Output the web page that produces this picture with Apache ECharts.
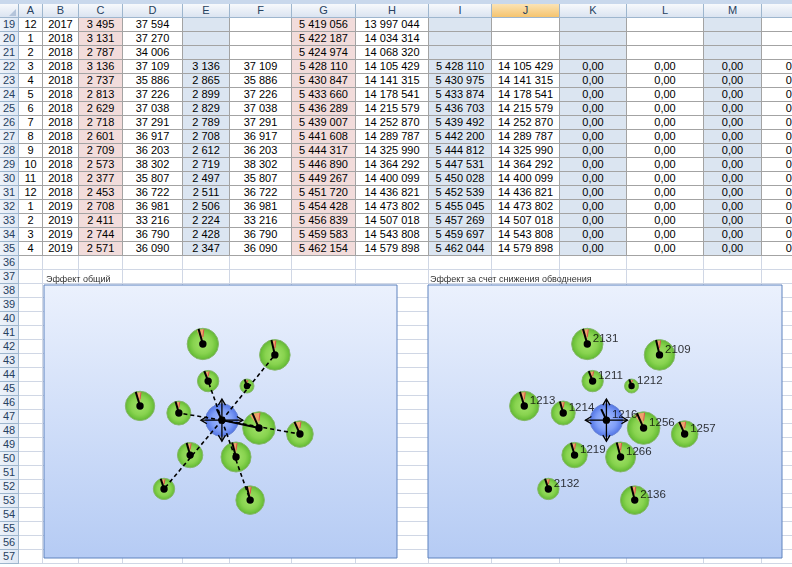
<!DOCTYPE html>
<html>
<head>
<meta charset="utf-8">
<script src="https://cdn.jsdelivr.net/npm/echarts@6/dist/echarts.min.js"></script>
<style>
html, body { margin: 0; padding: 0; width: 792px; height: 567px; overflow: hidden; background: #fff; font-family: "Liberation Sans", Arial, sans-serif; }
#sheet { position: absolute; left: 0; top: 0; width: 792px; height: 567px; overflow: hidden; }
.c { position: absolute; box-sizing: border-box; font-size: 11px; text-align: center; white-space: nowrap; overflow: hidden; line-height: 13px; color: #000; }
#chart { position: absolute; left: 0; top: 0; width: 792px; height: 567px; }
</style>
</head>
<body>
<div id="sheet"></div>
<div id="chart"></div>
<script>
// --- spreadsheet data (rows 19..35) ---
const colNames = ['A', 'B', 'C', 'D', 'E', 'F', 'G', 'H', 'I', 'J', 'K', 'L', 'M', 'N'];
const colEdges = [19, 43, 79, 123, 183, 230, 292, 356, 429, 492, 560, 627, 704, 762, 832];
const monthA = [12, 1, 2, 3, 4, 5, 6, 7, 8, 9, 10, 11, 12, 1, 2, 3, 4];
const yearB = [2017, 2018, 2018, 2018, 2018, 2018, 2018, 2018, 2018, 2018, 2018, 2018, 2018, 2019, 2019, 2019, 2019];
const colC = [3495, 3131, 2787, 3136, 2737, 2813, 2629, 2718, 2601, 2709, 2573, 2377, 2453, 2708, 2411, 2744, 2571];
const colD = [37594, 37270, 34006, 37109, 35886, 37226, 37038, 37291, 36917, 36203, 38302, 35807, 36722, 36981, 33216, 36790, 36090];
const colE = [null, null, null, 3136, 2865, 2899, 2829, 2789, 2708, 2612, 2719, 2497, 2511, 2506, 2224, 2428, 2347];
const colF = [null, null, null, 37109, 35886, 37226, 37038, 37291, 36917, 36203, 38302, 35807, 36722, 36981, 33216, 36790, 36090];
const colG = [5419056, 5422187, 5424974, 5428110, 5430847, 5433660, 5436289, 5439007, 5441608, 5444317, 5446890, 5449267, 5451720, 5454428, 5456839, 5459583, 5462154];
const colH = [13997044, 14034314, 14068320, 14105429, 14141315, 14178541, 14215579, 14252870, 14289787, 14325990, 14364292, 14400099, 14436821, 14473802, 14507018, 14543808, 14579898];
const colI = [null, null, null, 5428110, 5430975, 5433874, 5436703, 5439492, 5442200, 5444812, 5447531, 5450028, 5452539, 5455045, 5457269, 5459697, 5462044];
const colJ = [null, null, null, 14105429, 14141315, 14178541, 14215579, 14252870, 14289787, 14325990, 14364292, 14400099, 14436821, 14473802, 14507018, 14543808, 14579898];
const colKN = [null, null, null, 0, 0, 0, 0, 0, 0, 0, 0, 0, 0, 0, 0, 0, 0];

// --- well map data ---
const wellIds = ['2131', '2109', '1211', '1212', '1213', '1214', '1216', '1256', '1257', '1219', '1266', '2132', '2136'];
const wellX = [45.0, 65.4, 46.5, 57.5, 27.2, 38.2, 50.4, 60.9, 72.5, 41.4, 54.4, 34.0, 58.4];
const wellY = [78.4, 74.4, 64.8, 63.0, 55.7, 53.1, 50.5, 47.6, 45.4, 37.7, 37.0, 25.3, 21.2];
const wellRate = [246, 234, 114, 49, 216, 144, 266, 266, 177, 161, 225, 114, 204];
const wellWater = [7.8, 5.0, 7.0, 5.5, 7.0, 7.0, 0, 11.0, 10.0, 6.5, 6.5, 7.0, 5.5];
const wellNeedle = [16, 13, 21, 19, 17, 16, 25, 24, 24, 16, 15, 18, 14];
const injector = '1216';
const dashedLinks = [['1216', '2109'], ['1216', '1211'], ['1216', '1214'], ['1216', '1257'], ['1216', '2132'], ['1216', '2136']];
const solidLinks = [['1216', '1256']];

// --- draw the sheet ---
const sheet = document.getElementById('sheet');
const hdrBg = 'linear-gradient(#f7f9fc, #dbe4f1)';
const hdrBorder = '#9eb6ce';
function cell(x, y, w, h, text, css) {
    let d = document.createElement('div');
    d.className = 'c';
    d.style.left = x + 'px';
    d.style.top = y + 'px';
    d.style.width = w + 'px';
    d.style.height = h + 'px';
    d.textContent = text;
    Object.assign(d.style, css || {});
    sheet.appendChild(d);
}
function fmt(n) {
    if (n === null) return '';
    return String(n).replace(/\B(?=(\d{3})+(?!\d))/g, '\u00a0');
}

cell(0, 0, 792, 4, '', { background: '#c9d8ec' });
cell(0, 4, 19, 14, '', { background: hdrBg, borderRight: '1px solid ' + hdrBorder, borderBottom: '1px solid ' + hdrBorder });
cell(9, 9, 0, 0, '', { borderLeft: '7px solid transparent', borderBottom: '7px solid #b4c4da', overflow: 'visible' });
colNames.forEach((name, i) => {
    cell(colEdges[i], 4, colEdges[i + 1] - colEdges[i], 14, name === 'N' ? '' : name, {
        background: name === 'J' ? 'linear-gradient(#fbe3b5, #f5c46f)' : hdrBg,
        borderRight: '1px solid ' + hdrBorder, borderBottom: '1px solid ' + hdrBorder, color: '#27415f'
    });
});

const tableCols = [monthA, yearB, colC, colD, colE, colF, colG, colH, colI, colJ, colKN, colKN, colKN, colKN];
const pink = '#f2dcdb', blue = '#dbe5f1';
const fills = [null, null, pink, null, blue, null, pink, null, blue, null, blue, null, blue, null];
for (let r = 19; r <= 57; r++) {
    let y = 18 + (r - 19) * 14;
    cell(0, y, 19, 14, String(r), {
        background: 'linear-gradient(90deg, #eef3fa, #dfe8f4)', borderRight: '1px solid ' + hdrBorder,
        borderBottom: '1px solid ' + hdrBorder, color: '#27415f'
    });
    let idx = r - 19;
    for (let i = 0; i < colNames.length; i++) {
        let x = colEdges[i], w = colEdges[i + 1] - colEdges[i];
        if (r <= 35) {
            let v = tableCols[i][idx];
            let txt;
            if (i < 2) txt = String(v);
            else if (i >= 10) txt = v === null ? '' : '0,00';
            else txt = fmt(v);
            cell(x, y, w, 14, txt, {
                background: fills[i] || '#fff', borderRight: '1px solid #a3a3a3', borderBottom: '1px solid #a3a3a3'
            });
        } else {
            cell(x, y, w, 14, '', { borderRight: '1px solid #d0d7e5', borderBottom: '1px solid #d0d7e5' });
        }
    }
}

// --- charts ---
let myChart = echarts.init(document.getElementById('chart'), null, { renderer: 'canvas' });

let wellData = wellIds.map((id, i) => [wellX[i], wellY[i], wellRate[i], wellWater[i], wellNeedle[i], id === injector ? 1 : 0, id]);
let idx = {};
wellIds.forEach((id, i) => { idx[id] = i; });
const linkCoords = pairs => pairs.map(p => ({ coords: [[wellX[idx[p[0]]], wellY[idx[p[0]]]], [wellX[idx[p[1]]], wellY[idx[p[1]]]]] }));

function renderBubble(params, api) {
    let p = api.coord([api.value(0), api.value(1)]);
    let cx = p[0], cy = p[1];
    let r = Math.sqrt(api.value(2));
    let children = [];
    if (api.value(5) === 1) {
        children.push({
            type: 'circle', shape: { cx: cx, cy: cy, r: r },
            style: {
                fill: new echarts.graphic.RadialGradient(0.5, 0.5, 0.5, [
                    { offset: 0, color: '#a6bdff' }, { offset: 0.6, color: '#809ff7' },
                    { offset: 0.9, color: '#5b7de9' }, { offset: 1, color: '#4d6cd6' }]),
                stroke: '#6a86d8', lineWidth: 1
            }
        });
    } else {
        children.push({
            type: 'circle', shape: { cx: cx, cy: cy, r: r },
            style: {
                fill: new echarts.graphic.RadialGradient(0.5, 0.5, 0.5, [
                    { offset: 0, color: '#a2e36a' }, { offset: 0.6, color: '#88d34f' },
                    { offset: 0.88, color: '#6bc039' }, { offset: 0.96, color: '#5dae31' }, { offset: 1, color: '#93c878' }]),
                stroke: '#86b96a', lineWidth: 1
            }
        });
        let a0 = -Math.PI / 2 + 0.07, w = api.value(3) / 100 * 2 * Math.PI;
        children.push({
            type: 'sector', shape: { cx: cx, cy: cy, r0: 0, r: r - 1, startAngle: a0 - w, endAngle: a0 },
            style: {
                fill: new echarts.graphic.RadialGradient(cx, cy, r, [
                    { offset: 0, color: 'rgba(240,160,105,0.1)' }, { offset: 0.35, color: 'rgba(240,160,105,0.6)' },
                    { offset: 0.6, color: 'rgba(240,163,108,1)' }, { offset: 1, color: '#eea16a' }], true)
            }
        });
        children.push({
            type: 'line', shape: { x1: cx, y1: cy - r * 0.45, x2: cx + 1, y2: cy - r + 1 },
            style: { stroke: '#d9534a', lineWidth: 1 }
        });
    }
    return { type: 'group', children: children };
}

function renderNeedle(params, api) {
    let p = api.coord([api.value(0), api.value(1)]);
    let cx = p[0], cy = p[1];
    let r = Math.sqrt(api.value(2));
    let a = api.value(4) * Math.PI / 180;
    let inj = api.value(5) === 1;
    let len = inj ? r * 0.75 : r;
    let children = [];
    if (inj) {
        let L = 21, h = 6;
        [[0, -1], [0, 1], [-1, 0], [1, 0]].forEach(d => {
            let tx = cx + d[0] * L, ty = cy + d[1] * L;
            children.push({ type: 'line', shape: { x1: cx, y1: cy, x2: tx, y2: ty }, style: { stroke: '#000', lineWidth: 1.3 } });
            let px = -d[1], py = d[0];
            children.push({
                type: 'polyline',
                shape: { points: [[tx - d[0] * h + px * h * 0.6, ty - d[1] * h + py * h * 0.6], [tx, ty], [tx - d[0] * h - px * h * 0.6, ty - d[1] * h - py * h * 0.6]] },
                style: { stroke: '#000', lineWidth: 1.3, fill: null }
            });
        });
    }
    children.push({
        type: 'line', shape: { x1: cx, y1: cy, x2: cx - Math.sin(a) * len, y2: cy - Math.cos(a) * len },
        style: { stroke: '#000', lineWidth: 2 }
    });
    children.push({ type: 'circle', shape: { cx: cx, cy: cy, r: r < 9 ? 3.2 : 3.7 }, style: { fill: '#000' } });
    return { type: 'group', children: children };
}

const bgFill = new echarts.graphic.LinearGradient(0, 0, 0, 1, [
    { offset: 0, color: '#ebf1fd' }, { offset: 1, color: '#b5cbf4' }]);
const fontFamily = '"Liberation Sans", Arial, sans-serif';
const titleStyle = { fontSize: 9, fontWeight: 'normal', color: '#333', fontFamily: fontFamily };

function mapSeries(k, withLinks, withLabels) {
    let s = [{
        type: 'custom', xAxisIndex: k, yAxisIndex: k, renderItem: renderBubble, data: wellData, z: 2, silent: true
    }];
    if (withLinks) {
        s.push({
            type: 'lines', coordinateSystem: 'cartesian2d', xAxisIndex: k, yAxisIndex: k, z: 3, silent: true,
            lineStyle: { color: '#000', width: 1.6, type: [4, 3], opacity: 1 }, data: linkCoords(dashedLinks)
        });
        s.push({
            type: 'lines', coordinateSystem: 'cartesian2d', xAxisIndex: k, yAxisIndex: k, z: 3, silent: true,
            lineStyle: { color: '#000', width: 2, type: 'solid', opacity: 1 }, data: linkCoords(solidLinks)
        });
    }
    s.push({
        type: 'custom', xAxisIndex: k, yAxisIndex: k, renderItem: renderNeedle, data: wellData, z: 4, silent: true
    });
    if (withLabels) {
        s.push({
            type: 'scatter', xAxisIndex: k, yAxisIndex: k, z: 5, silent: true, symbolSize: 1,
            itemStyle: { color: 'rgba(0,0,0,0)' },
            data: wellData.map(d => [d[0], d[1], d[6]]),
            label: {
                show: true, position: [6, -11], formatter: p => p.value[2],
                fontSize: 11.5, color: '#000', fontFamily: fontFamily
            }
        });
    }
    return s;
}

myChart.setOption({
    animation: false,
    title: [
        { text: 'Эффект общий', left: 46, top: 275, padding: 0, textStyle: titleStyle },
        { text: 'Эффект за счет снижения обводнения', left: 430, top: 275, padding: 0, textStyle: titleStyle }
    ],
    grid: [
        { left: 44, top: 285, width: 353, height: 273, show: true, backgroundColor: bgFill, borderColor: '#5f83bf', borderWidth: 1 },
        { left: 428, top: 285, width: 354, height: 273, show: true, backgroundColor: bgFill, borderColor: '#5f83bf', borderWidth: 1 }
    ],
    xAxis: [
        { type: 'value', gridIndex: 0, min: 0, max: 100, show: false },
        { type: 'value', gridIndex: 1, min: 0, max: 100, show: false }
    ],
    yAxis: [
        { type: 'value', gridIndex: 0, min: 0, max: 100, show: false },
        { type: 'value', gridIndex: 1, min: 0, max: 100, show: false }
    ],
    series: mapSeries(0, true, false).concat(mapSeries(1, false, true))
});
</script>
</body>
</html>
